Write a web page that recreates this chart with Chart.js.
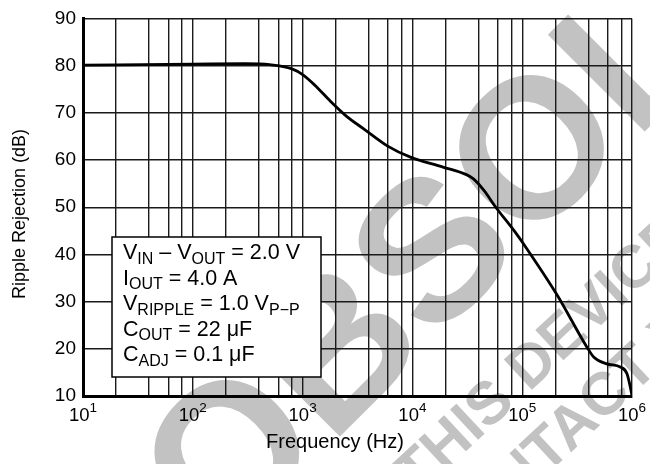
<!DOCTYPE html>
<html>
<head>
<meta charset="utf-8">
<title>Ripple Rejection vs Frequency</title>
<script src="https://cdn.jsdelivr.net/npm/chart.js@4.4.1/dist/chart.umd.min.js"></script>
<style>
    html, body { margin: 0; padding: 0; background: #fff; }
    #wrap { width: 650px; height: 464px; }
</style>
</head>
<body>
<div id="wrap"><canvas id="rippleChart" width="650" height="464"></canvas></div>
<script>
// ============================================
// DATA
// ============================================
const frequencyHz = [10, 100, 300, 500, 800, 1000, 1300, 1800, 2500, 3600, 5900, 9600, 19000, 31000, 36000, 45000, 57000, 87000, 111000, 208000, 390000, 450000, 590000, 790000, 900000, 990000, 1000000];
const rejectionDb = [80.1, 80.3, 80.4, 80.2, 79.3, 78.1, 75.8, 72.4, 69.3, 66.6, 63.0, 60.6, 58.5, 56.9, 56.0, 53.5, 50.1, 44.6, 41.1, 31.4, 20.3, 18.2, 16.8, 16.1, 14.7, 10.6, 10];

// grid lines drawn at 1, 2, 4, 6, 8 of each decade
const xGridValues = [10, 20, 40, 60, 80, 100, 200, 400, 600, 800, 1e3, 2e3, 4e3, 6e3, 8e3, 1e4, 2e4, 4e4, 6e4, 8e4, 1e5, 2e5, 4e5, 6e5, 8e5, 1e6];
const xDecadeLabels = [[10, '1'], [100, '2'], [1e3, '3'], [1e4, '4'], [1e5, '5'], [1e6, '6']];
const yTickValues = [10, 20, 30, 40, 50, 60, 70, 80, 90];

const xTitle = 'Frequency (Hz)';
const yTitle = 'Ripple Rejection (dB)';

// conditions box, [text, isSubscript]
const noteLines = [
    [['V', false], ['IN', true], [' \u2013 V', false], ['OUT', true], [' = 2.0 V', false]],
    [['I', false], ['OUT', true], [' = 4.0 A', false]],
    [['V', false], ['RIPPLE', true], [' = 1.0 V', false], ['P\u2212P', true]],
    [['C', false], ['OUT', true], [' = 22 \u03bcF', false]],
    [['C', false], ['ADJ', true], [' = 0.1 \u03bcF', false]]
];

const watermarkMain = 'OBSOLETE';
const watermarkLine1 = 'THIS DEVICE IS NOT RECOMMENDED FOR NEW DESIGN';
const watermarkLine2 = 'PLEASE CONTACT YOUR ON SEMICONDUCTOR REPRESENTATIVE';

const FONT = '"Liberation Sans", Arial, Helvetica, sans-serif';

// ============================================
// PLUGINS
// ============================================

// rotated text, placed so that the centre of one letter sits on (ax, ay)
function drawAnchoredText(ctx, text, anchorIndex, ax, ay, angleDeg, size) {
    ctx.font = 'bold ' + size + 'px ' + FONT;
    const th = angleDeg * Math.PI / 180;
    const c = Math.cos(th), s = Math.sin(th);
    const off = ctx.measureText(text.slice(0, anchorIndex)).width +
        ctx.measureText(text[anchorIndex]).width / 2;
    const bx = ax - 0.36 * size * s;
    const by = ay + 0.36 * size * c;
    ctx.save();
    ctx.translate(bx - off * c, by - off * s);
    ctx.rotate(th);
    ctx.fillText(text, 0, 0);
    ctx.restore();
}

const watermarkPlugin = {
    id: 'watermark',
    beforeDraw(chart) {
        const ctx = chart.ctx;
        ctx.save();
        ctx.fillStyle = '#fff';
        ctx.fillRect(0, 0, chart.width, chart.height);
        ctx.fillStyle = '#c2c2c2';
        ctx.textBaseline = 'alphabetic';
        ctx.textAlign = 'left';
        drawAnchoredText(ctx, watermarkMain, 0, 225, 450, -45, 199);
        drawAnchoredText(ctx, watermarkLine1, 5, 530, 362, -43, 60);
        drawAnchoredText(ctx, watermarkLine2, 11, 574, 420, -43, 60);
        ctx.restore();
    }
};

const labelsPlugin = {
    id: 'decadeLabels',
    afterDraw(chart) {
        const ctx = chart.ctx;
        const xScale = chart.scales.x;
        ctx.save();
        ctx.fillStyle = '#000';
        ctx.textBaseline = 'alphabetic';
        ctx.textAlign = 'left';

        // 10^n labels under the x axis
        xDecadeLabels.forEach(([value, exp]) => {
            const px = xScale.getPixelForValue(value);
            ctx.font = '18.5px ' + FONT;
            const baseW = ctx.measureText('10').width;
            ctx.font = '13.5px ' + FONT;
            const expW = ctx.measureText(exp).width;
            const left = px - (baseW + expW) / 2;
            ctx.font = '18.5px ' + FONT;
            ctx.fillText('10', left, 421);
            ctx.font = '13.5px ' + FONT;
            ctx.fillText(exp, left + baseW, 412);
        });

        // axis titles
        ctx.textAlign = 'center';
        ctx.textBaseline = 'middle';
        ctx.font = '20px ' + FONT;
        ctx.fillText(xTitle, 335, 442);
        ctx.save();
        ctx.translate(20, 214);
        ctx.rotate(-Math.PI / 2);
        ctx.font = '18px ' + FONT;
        ctx.fillText(yTitle, 0, 0);
        ctx.restore();
        ctx.textAlign = 'left';
        ctx.textBaseline = 'alphabetic';

        // conditions box
        const bx = 112, by = 237, bw = 209, bh = 140;
        ctx.fillStyle = '#fff';
        ctx.fillRect(bx, by, bw, bh);
        ctx.strokeStyle = '#000';
        ctx.lineWidth = 1.5;
        ctx.strokeRect(bx, by, bw, bh);

        ctx.fillStyle = '#000';
        noteLines.forEach((parts, i) => {
            let x = 123;
            const y = 259 + i * 25.5;
            parts.forEach(([text, sub]) => {
                ctx.font = (sub ? '16px ' : '21.5px ') + FONT;
                ctx.fillText(text, x, sub ? y + 4.5 : y);
                x += ctx.measureText(text).width;
            });
        });
        ctx.restore();
    }
};

// ============================================
// CHART
// ============================================
const points = frequencyHz.map((f, i) => ({ x: f, y: rejectionDb[i] }));

new Chart(document.getElementById('rippleChart'), {
    type: 'line',
    data: {
        datasets: [{
            data: points,
            borderColor: '#000',
            borderWidth: 2.8,
            pointRadius: 0,
            fill: false,
            cubicInterpolationMode: 'monotone'
        }]
    },
    options: {
        responsive: false,
        animation: false,
        devicePixelRatio: 1,
        layout: { padding: { top: 12, right: 18, left: 0, bottom: 0 } },
        plugins: {
            legend: { display: false },
            tooltip: { enabled: false }
        },
        scales: {
            x: {
                type: 'logarithmic',
                min: 10,
                max: 1e6,
                afterBuildTicks: scale => {
                    scale.ticks = xGridValues.map(v => ({ value: v }));
                },
                afterFit: scale => { scale.height = 68; },
                ticks: { display: false },
                grid: { color: '#1a1a1a', lineWidth: 1.4, drawTicks: false },
                border: { color: '#000', width: 3 }
            },
            y: {
                min: 10,
                max: 90,
                afterBuildTicks: scale => {
                    scale.ticks = yTickValues.map(v => ({ value: v }));
                },
                afterFit: scale => { scale.width = 83; },
                ticks: {
                    color: '#000',
                    padding: 7,
                    font: { family: FONT, size: 19 }
                },
                grid: { color: '#1a1a1a', lineWidth: 1.4, drawTicks: false },
                border: { color: '#000', width: 3 }
            }
        }
    },
    plugins: [watermarkPlugin, labelsPlugin]
});
</script>
</body>
</html>
